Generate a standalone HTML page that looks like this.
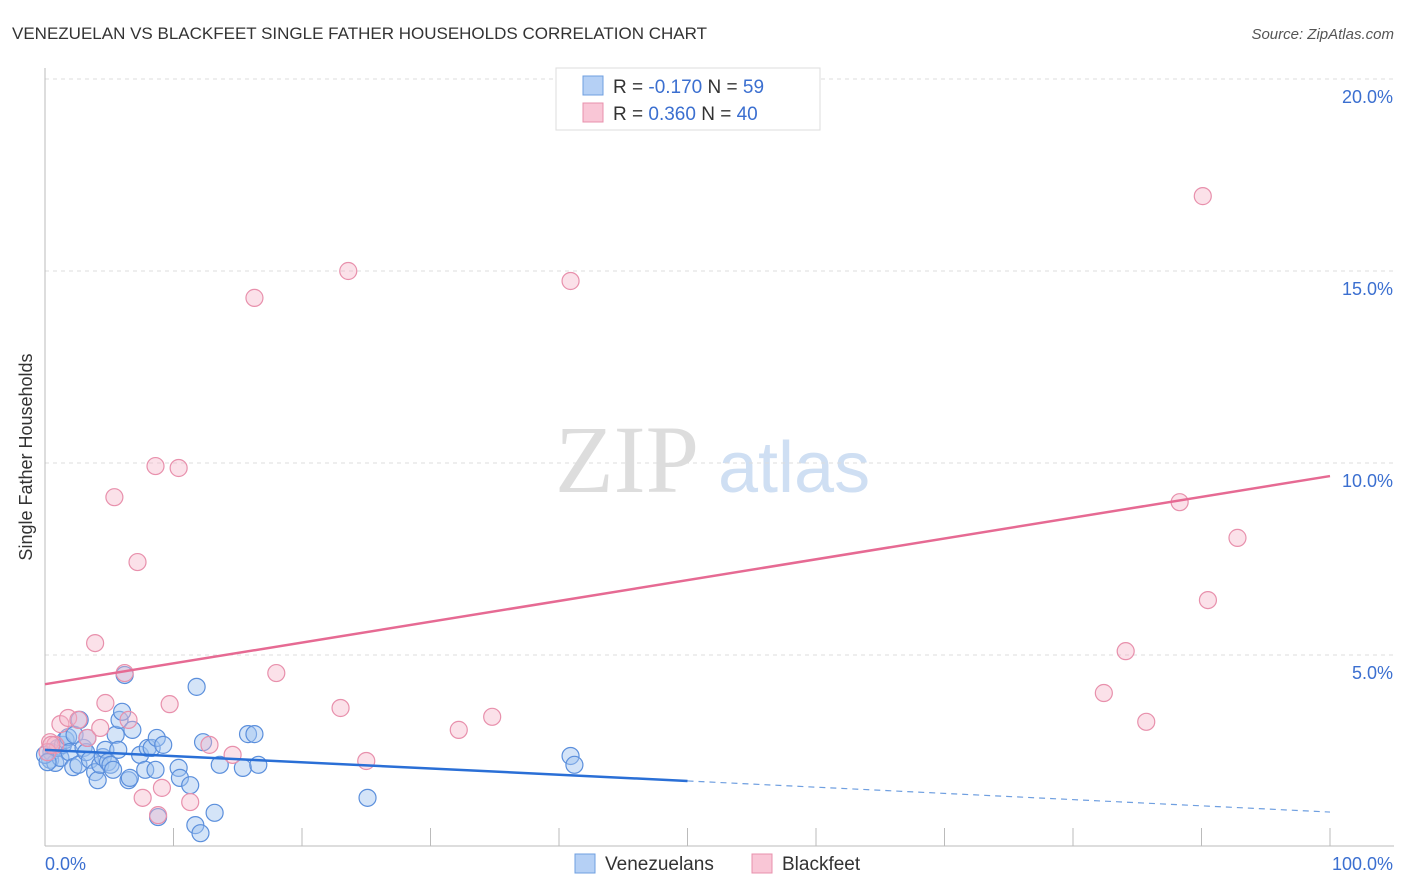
<!DOCTYPE html>
<html><head><meta charset="utf-8"><style>
body{margin:0;background:#fff;font-family:"Liberation Sans",sans-serif}
svg{display:block}
</style></head><body>
<svg id="chart" width="1406" height="892" xmlns="http://www.w3.org/2000/svg">
<text x="12" y="39" font-size="17" fill="#333">VENEZUELAN VS BLACKFEET SINGLE FATHER HOUSEHOLDS CORRELATION CHART</text>
<text x="1394" y="39" font-size="15" fill="#555" font-style="italic" text-anchor="end">Source: ZipAtlas.com</text>
<text x="32" y="457" font-size="18" fill="#333" text-anchor="middle" transform="rotate(-90 32 457)">Single Father Households</text>
<text x="555" y="492" font-size="96" fill="#ddd" font-family="Liberation Serif,serif">ZIP</text>
<text x="718" y="492" font-size="72" fill="#cfdff3">atlas</text>
<g id="grid"></g><g id="axes"></g><g id="pts"></g><g id="lines"></g>
<g>
<rect x="556" y="68" width="264" height="62" fill="#fff" stroke="#ddd"/>
<rect x="583" y="76" width="20" height="19" fill="#b5d0f5" stroke="#6f9fe0"/>
<rect x="583" y="103" width="20" height="19" fill="#f9c6d6" stroke="#e890ac"/>
<text x="613" y="93" font-size="19" fill="#333">R = <tspan fill="#3b6fd0">-0.170</tspan>   N = <tspan fill="#3b6fd0"> 59</tspan></text>
<text x="613" y="120" font-size="19" fill="#333">R = <tspan fill="#3b6fd0"> 0.360</tspan>   N = <tspan fill="#3b6fd0">40</tspan></text>
</g>
<g>
<rect x="575" y="854" width="20" height="19" fill="#b5d0f5" stroke="#6f9fe0"/>
<text x="605" y="870" font-size="19" fill="#333">Venezuelans</text>
<rect x="752" y="854" width="20" height="19" fill="#f9c6d6" stroke="#e890ac"/>
<text x="782" y="870" font-size="19" fill="#333">Blackfeet</text>
</g>
</svg>
<script>
const blueX=[0.4,0.5,0.8,1.0,1.2,1.4,1.6,1.8,1.9,2.2,2.3,2.6,2.7,3.0,3.2,3.3,3.5,3.9,4.1,4.3,4.5,4.7,4.9,5.1,5.3,5.5,5.7,5.8,6.0,6.2,6.5,6.6,6.8,7.4,7.8,8.0,8.3,8.6,8.7,8.8,9.2,10.4,10.5,11.3,11.7,11.8,12.1,12.3,13.2,13.6,15.4,15.8,16.3,16.6,25.1,40.9,41.2,0,0.2];
const blueY=[2.27,2.47,2.19,2.58,2.32,2.66,2.79,2.86,2.47,2.08,2.92,2.14,3.31,2.58,2.47,2.84,2.27,1.95,1.74,2.14,2.34,2.53,2.21,2.14,2.01,2.92,2.53,3.31,3.52,4.48,1.74,1.80,3.05,2.40,2.01,2.58,2.58,2.01,2.84,0.78,2.66,2.06,1.80,1.61,0.57,4.17,0.36,2.73,0.89,2.14,2.06,2.94,2.94,2.14,1.28,2.37,2.14,2.40,2.21];
const pinkX=[0.4,0.8,1.2,1.8,2.6,3.3,3.9,4.3,4.7,5.4,6.2,6.5,7.2,7.6,8.6,8.8,9.1,9.7,10.4,11.3,12.8,14.6,16.3,18.0,23.0,23.6,25.0,32.2,34.8,40.9,47.2,82.4,84.1,85.7,88.3,90.1,90.5,92.8,0.2,0.5];
const pinkY=[2.73,2.66,3.20,3.36,3.31,2.84,5.31,3.10,3.75,9.11,4.53,3.31,7.42,1.28,9.92,0.83,1.54,3.72,9.87,1.17,2.66,2.40,14.30,4.53,3.62,15.00,2.24,3.05,3.39,14.74,19.38,4.01,5.10,3.26,8.98,16.95,6.43,8.05,2.47,2.66];
const yTicks=[5,10,15,20];
const yTickLabels=["5.0%","10.0%","15.0%","20.0%"];
const blueTrend=[2.53,0.91];
const pinkTrend=[4.24,9.66];
const NS="http://www.w3.org/2000/svg";
const sx=v=>45+v*12.85, sy=v=>847-v*38.4;
function mk(p,t,a){const e=document.createElementNS(NS,t);for(const k in a)e.setAttribute(k,a[k]);p.appendChild(e);return e;}
const grid=document.getElementById('grid'),axes=document.getElementById('axes'),pts=document.getElementById('pts'),lines=document.getElementById('lines');
yTicks.forEach((t,i)=>{
 const l=mk(grid,'line',{x1:45,x2:1394,y1:sy(t),y2:sy(t),stroke:'#ddd','stroke-dasharray':'4,4'});
 
 
 const tx=mk(axes,'text',{x:1393,y:sy(t)+24,'font-size':18,fill:'#3b6fd0','text-anchor':'end'});
 tx.textContent=yTickLabels[i];
 
 
});
mk(axes,'line',{x1:45,x2:45,y1:68,y2:846,stroke:'#bbb'});
mk(axes,'line',{x1:45,x2:1394,y1:846,y2:846,stroke:'#bbb'});
for(let i=1;i<=10;i++){const t=mk(axes,'line',{x1:sx(i*10),x2:sx(i*10),y1:828,y2:846,stroke:'#bbb'});
 
 }
const x0=mk(axes,'text',{x:45,y:870,'font-size':18,fill:'#3b6fd0'});x0.textContent='0.0%';


const x1=mk(axes,'text',{x:1393,y:870,'font-size':18,fill:'#3b6fd0','text-anchor':'end'});x1.textContent='100.0%';


blueX.forEach((x,i)=>{const c=mk(pts,'circle',{cx:sx(x),cy:sy(blueY[i]),r:8.5,fill:'rgba(160,196,240,0.45)',stroke:'#5b8fdc','stroke-width':1.2});
 
 });
pinkX.forEach((x,i)=>{const c=mk(pts,'circle',{cx:sx(x),cy:sy(pinkY[i]),r:8.5,fill:'rgba(245,180,200,0.4)',stroke:'#e890ac','stroke-width':1.2});
 
 });
const bm=blueTrend[0]+(blueTrend[1]-blueTrend[0])*0.5;
const b1=mk(lines,'line',{x1:sx(0),y1:sy(blueTrend[0]),x2:sx(50),y2:sy(bm),stroke:'#2a6fd6','stroke-width':2.5});


const b2=mk(lines,'line',{x1:sx(50),y1:sy(bm),x2:sx(100),y2:sy(blueTrend[1]),stroke:'#6f9fe0','stroke-width':1.2,'stroke-dasharray':'6,5'});


const p1=mk(lines,'line',{x1:sx(0),y1:sy(pinkTrend[0]),x2:sx(100),y2:sy(pinkTrend[1]),stroke:'#e66a93','stroke-width':2.5});


</script>
</body></html>
